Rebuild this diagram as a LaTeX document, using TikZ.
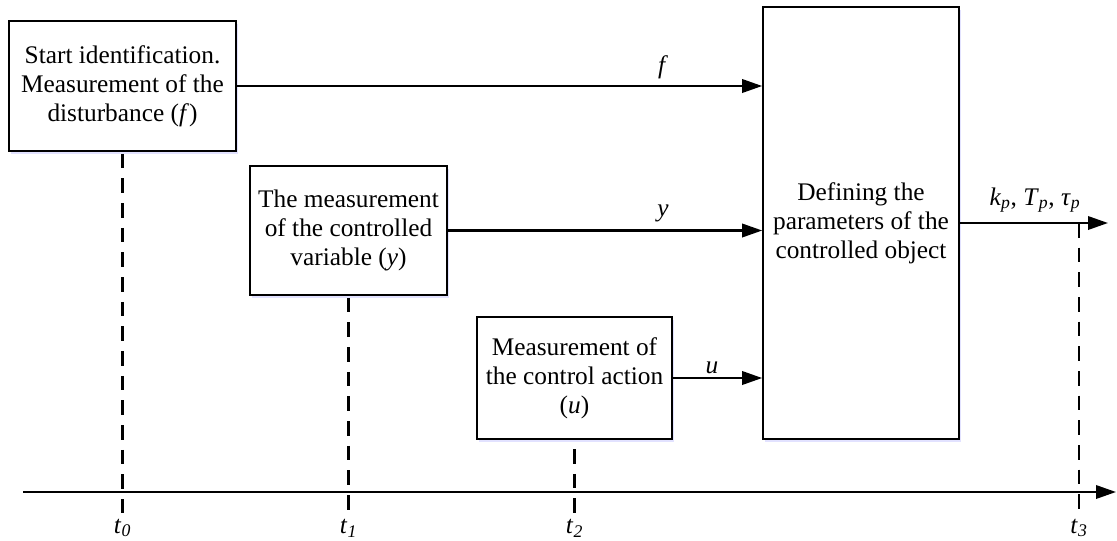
\documentclass[tikz,border=0pt]{standalone}
\usepackage{fontspec}
\setmainfont{Liberation Serif}
\usetikzlibrary{arrows.meta,shadows}
\begin{document}
\begin{tikzpicture}[x=0.75pt,y=-0.75pt,
  txt/.style={font=\fontsize{19}{21.75}\selectfont},
  box/.style={txt, draw, line width=1.2pt, fill=white, align=center, inner sep=0pt,
    drop shadow={shadow xshift=1.2pt, shadow yshift=-2.2pt, fill=blue!25, opacity=0.45}},
  conn/.style={line width=1.8pt, -{Triangle[length=15pt,width=10pt]}},
  tline/.style={line width=1.7pt, dash pattern=on 11pt off 7.5pt},
  lbl/.style={txt, inner sep=0pt}]
\useasboundingbox (0,0) rectangle (1117,540);

\node[box, minimum width=170.25pt, minimum height=97.5pt] (b1) at (122.5,86)
  {Start identification.\\Measurement of the\\disturbance (\textit{f})};
\node[box, minimum width=147.75pt, minimum height=96.75pt] (b2) at (348.5,230.5)
  {The measurement\\of the controlled\\variable (\textit{y})};
\node[box, minimum width=146.25pt, minimum height=91.5pt] (b3) at (574.5,378)
  {Measurement of\\the control action\\(\textit{u})};
\node[box, minimum width=147pt, minimum height=324pt] (big) at (861,223)
  {Defining the\\parameters of the\\controlled object};

% signal arrows
\draw[conn] (b1.east) -- (b1.east -| big.west);
\draw[conn] (b2.east) -- (b2.east -| big.west);
\draw[conn] (b3.east) -- (b3.east -| big.west);
\coordinate (out) at (1108,223);
\draw[conn] (big.east) -- (out);

\node[lbl] (lf) at (663,67) {\textit{f}};
\node[lbl] (ly) at (663,213) {\textit{y}};
\node[lbl] (lu) at (712,368) {\textit{u}};
\node[lbl] (lout) at (1035,200) {\textit{k}\textsubscript{\textit{p}}, \textit{T}\textsubscript{\textit{p}}, \textit{τ}\textsubscript{\textit{p}}};

% time axis
\coordinate (ax0) at (23,492);
\coordinate (ax1) at (1116,492);
\draw[conn] (ax0) -- (ax1);

% time markers
\coordinate (e0) at (122.5,513);
\coordinate (e1) at (348.5,513);
\coordinate (e2) at (574.5,513);
\coordinate (s3) at (1079,223);
\coordinate (e3) at (1079,513);
\draw[tline] ([yshift=-1.5pt]b1.south) -- (e0);
\draw[tline] ([yshift=-1.5pt]b2.south) -- (e1);
\draw[tline] ([yshift=-7pt]b3.south) -- (e2);
\draw[tline] (s3) -- (e3);

\node[lbl] (t0) at (122.5,528) {\textit{t}\textsubscript{\textit{0}}};
\node[lbl] (t1) at (348.5,528) {\textit{t}\textsubscript{\textit{1}}};
\node[lbl] (t2) at (574.5,528) {\textit{t}\textsubscript{\textit{2}}};
\node[lbl] (t3) at (1079,528) {\textit{t}\textsubscript{\textit{3}}};
\end{tikzpicture}
\end{document}
